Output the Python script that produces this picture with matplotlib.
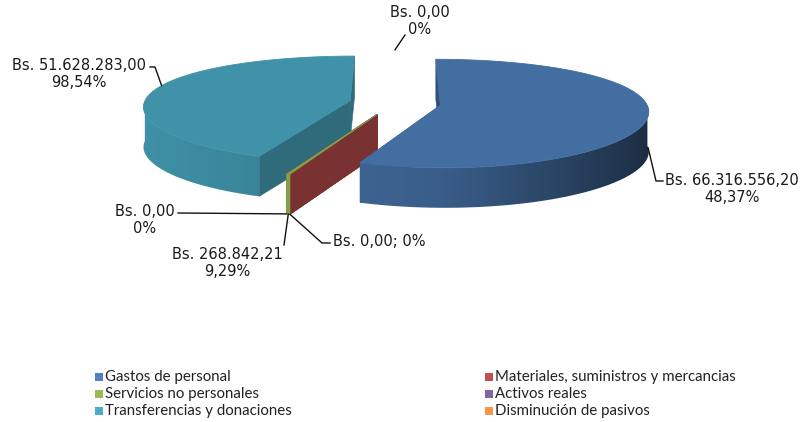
import numpy as np
import matplotlib
matplotlib.use("Agg")
import matplotlib.pyplot as plt
from matplotlib.patches import Polygon, Rectangle
from matplotlib.colors import to_rgb

# --- Données
categorias = [
    "Gastos de personal",
    "Materiales, suministros y mercancias",
    "Servicios no personales",
    "Activos reales",
    "Transferencias y donaciones",
    "Disminución de pasivos",
]
montos = [66316556.20, 0.00, 268842.21, 0.00, 51628283.00, 0.00]
porcentajes = ["48,37%", "0%", "9,29%", "0%", "98,54%", "0%"]
colores = ["#4f81bd", "#c0504d", "#9bbb59", "#8064a2", "#4bacc6", "#f79646"]

# --- Géométrie du "camembert 3D" (pixels)
CX, CY = 395, 103
R, H = 206, 40
EXPLODE = 46
K0, K1, P = 0.26, 0.04, 0.10


def proj(X, Y, Z=0.0):
    X = np.asarray(X, float)
    Y = np.asarray(Y, float)
    sx = CX + X * (1 - P * Y / R)
    sy = CY - Y * (K0 - K1 * Y / R) - Z
    return sx, sy


def shade(c, f):
    r, g, b = to_rgb(c)
    return (r * f, g * f, b * f)


def wall_factor(c):
    return 0.85 - 0.13 * (c + 1) - 0.25 * np.maximum(c, 0)


fig = plt.figure(figsize=(8.02, 4.22), dpi=100)
ax = fig.add_axes([0, 0, 1, 1])

total = sum(montos)
angles = []
start = 90.0
for v in montos:
    a2 = start - 360.0 * v / total
    angles.append((start, a2))
    start = a2

geo = {}
for i, (a1, a2) in enumerate(angles):
    mid = np.radians((a1 + a2) / 2)
    geo[i] = (EXPLODE * np.cos(mid), EXPLODE * np.sin(mid), mid)

zc = [1]


def poly(pts, fc, lw=0.4):
    ax.add_patch(Polygon(pts, closed=True, facecolor=fc, edgecolor=fc,
                         linewidth=lw, zorder=zc[0]))
    zc[0] += 1


def draw_walls(i):
    a1, a2 = angles[i]
    ox, oy, _ = geo[i]
    f = 0.63 if montos[i] == 0 else 0.62
    for a in (a1, a2):
        t = np.radians(a)
        xe, ye = ox + R * np.cos(t), oy + R * np.sin(t)
        p = [proj(ox, oy, 0), proj(xe, ye, 0), proj(xe, ye, -H), proj(ox, oy, -H)]
        poly([(float(u), float(v)) for u, v in p], shade(colores[i], f))


def draw_body(i):
    a1, a2 = angles[i]
    ox, oy, _ = geo[i]
    col = colores[i]
    n = max(3, int(abs(a1 - a2) * 2))
    th = np.radians(np.linspace(a1, a2, n))

    # paroi extérieure (partie avant) avec dégradé
    tf = th[np.sin(th) <= 0]
    if len(tf) > 1:
        xr, yr = ox + R * np.cos(tf), oy + R * np.sin(tf)
        sxt, syt = proj(xr, yr, 0)
        sxb, syb = proj(xr, yr, -H)
        pts = np.column_stack([np.r_[sxt, sxb[::-1]], np.r_[syt, syb[::-1]]])
        patch = Polygon(pts, closed=True, facecolor="none", edgecolor="none")
        ax.add_patch(patch)
        x0, x1 = pts[:, 0].min(), pts[:, 0].max()
        y0, y1 = pts[:, 1].min(), pts[:, 1].max()
        xs = np.linspace(x0, x1, 200)
        order = np.argsort(sxt)
        cs = np.interp(xs, sxt[order], np.cos(tf)[order])
        base = np.array(to_rgb(col))
        img = (wall_factor(cs)[:, None] * base[None, :])[None, :, :]
        im = ax.imshow(img, extent=(x0 - 0.5, x1 + 0.5, y1 + 0.5, y0 - 0.5),
                       origin="upper", aspect="auto", interpolation="bilinear",
                       zorder=zc[0])
        im.set_clip_path(patch)
        zc[0] += 1
        if x1 - x0 < 6:
            poly(pts, shade(col, 0.85), lw=0.8)

    # face supérieure
    xr, yr = ox + R * np.cos(th), oy + R * np.sin(th)
    sx, sy = proj(np.r_[ox, xr], np.r_[oy, yr], 0)
    poly(np.column_stack([sx, sy]), shade(col, 0.85), lw=0.6)


# ordre de dessin (arrière -> avant)
draw_walls(4)
draw_body(4)
draw_walls(3)
draw_walls(2)
draw_walls(1)
draw_body(2)
draw_walls(0)
draw_body(0)


def fmt_bs(v):
    s = f"{v:,.2f}"
    return "Bs. " + s.replace(",", "X").replace(".", ",").replace("X", ".")


def rim(i, Z, da=0.0):
    ox, oy, mid = geo[i]
    a = float(np.radians(angles[i][1])) if montos[i] == 0 else mid
    a += np.radians(da)
    sx, sy = proj(ox + R * np.cos(a), oy + R * np.sin(a), Z)
    return float(sx), float(sy)


# étiquettes: (x, y, ha, une ligne, coude, profondeur ancre, décalage angle)
etiquettes = {
    0: (665, 189, "left", False, [(656, 181), (663, 181)], -H * 0.8, 0),
    1: (333, 242, "left", True, [(322, 243), (330, 243)], -H, 0),
    2: (227, 263, "center", False, [(284, 245)], -H, 0),
    3: (145, 220, "center", False, [(178, 213)], -H, 0),
    4: (79, 74, "center", False, [(155, 67), (150, 67)], 0, -6),
    5: (420, 21, "center", False, [(405, 35)], 0, 0),
}

for i, (tx, ty, ha, une, coude, zz, da) in etiquettes.items():
    if une:
        txt = f"{fmt_bs(montos[i])}; {porcentajes[i]}"
    else:
        txt = f"{fmt_bs(montos[i])}\n{porcentajes[i]}"
    ax.text(tx, ty, txt, ha=ha, va="center", multialignment="center",
            fontsize=10.5, family="DejaVu Sans", color="#1a1a1a",
            linespacing=1.1, zorder=150)
    pts = [rim(i, zz, da)] + coude
    ax.plot([p[0] for p in pts], [p[1] for p in pts], color="#111111",
            linewidth=1.0, zorder=149)

# Légende
leg_x = [95, 485]
leg_y = [377, 394, 411]
for k, (nom, c) in enumerate(zip(categorias, colores)):
    lx = leg_x[k % 2]
    ly = leg_y[k // 2]
    ax.add_patch(Rectangle((lx, ly - 4), 8, 8, facecolor=c, edgecolor="none", zorder=150))
    ax.text(lx + 10, ly, nom, ha="left", va="center", fontsize=10.8,
            family="Lato", color="#222222", zorder=150)

ax.set_xlim(0, 802)
ax.set_ylim(422, 0)
ax.axis("off")

fig.savefig("out.png", dpi=100, facecolor="white")
